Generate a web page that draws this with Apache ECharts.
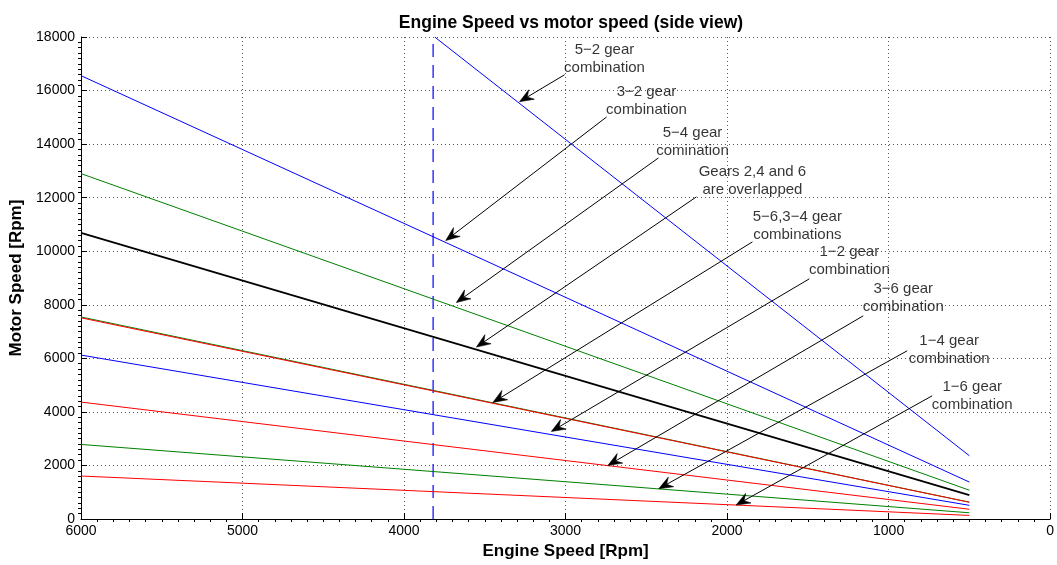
<!DOCTYPE html>
<html>
<head>
<meta charset="utf-8">
<title>Engine Speed vs motor speed</title>
<script src="https://cdn.jsdelivr.net/npm/echarts@6/dist/echarts.min.js"></script>
<style>
  html, body { margin: 0; padding: 0; background: #fff; }
  #chart { width: 1057px; height: 565px; }
</style>
</head>
<body>
<div id="chart"></div>
<script>
// Engine speed range covered by every gear combination [rpm]
const engineEnds = [6000, 500];

// Motor speed at the two ends of each gear-combination line [rpm]
const gear52 = [[3810, 18000], [500, 2363]];
const gear32 = [16556, 1379];
const gear54 = [12898, 1075];
const gears246 = [10685, 891];
const gear56 = [7545, 629];
const gear34 = [7513, 626];
const gear12 = [6121, 510];
const gear36 = [4366, 364];
const gear14 = [2784, 232];
const gear16 = [1605, 134];

// Engine speed marker (vertical dashed line)
const markerSpeed = 3820;

// Axis ticks
const xTicks = { min: 0, max: 6000, interval: 1000 };
const yTicks = { min: 0, max: 18000, interval: 2000 };

// Callouts: text, text anchor, arrow start and arrow tip (data units)
const calloutLabels = [
  '5\u22122 gear\ncombination',
  '3\u22122 gear\ncombination',
  '5\u22124 gear\ncomination',
  'Gears 2,4 and 6\nare overlapped',
  '5\u22126,3\u22124 gear\ncombinations',
  '1\u22122 gear\ncombination',
  '3\u22126 gear\ncombination',
  '1\u22124 gear\ncombination',
  '1\u22126 gear\ncombination'
];
const calloutTextPos = [
  [2759, 17197], [2499, 15607], [2214, 14099], [1843, 12625], [1565, 10965],
  [1243, 9640], [909, 8240], [625, 6318], [482, 4602]
];
const arrowStart = [
  [3006, 16590], [2746, 15014], [2425, 13484], [2190, 12029], [1843, 10349],
  [1491, 8968], [1157, 7587], [885, 6281], [730, 4601]
];
const arrowTip = [
  [3285, 15585], [3742, 10397], [3676, 8084], [3552, 6419], [3450, 4352],
  [3088, 3269], [2738, 2000], [2423, 1131], [1944, 522]
];

const FONT = '"Liberation Sans", Arial, Helvetica, sans-serif';
const BLUE = '#0000ff', GREEN = '#008000', RED = '#ff0000', BLACK = '#000000';

function pair(vals) {
  return [[engineEnds[0], vals[0]], [engineEnds[1], vals[1]]];
}

function gearLine(name, data, color, width) {
  return {
    name: name,
    type: 'line',
    data: data,
    symbol: 'none',
    silent: true,
    lineStyle: { color: color, width: width || 1 },
    z: 3
  };
}

// Arrow with a notched head, drawn from start to tip in pixel space
function renderArrow(params, api) {
  const s = api.coord([api.value(0), api.value(1)]);
  const t = api.coord([api.value(2), api.value(3)]);
  const dx = t[0] - s[0], dy = t[1] - s[1];
  const len = Math.sqrt(dx * dx + dy * dy) || 1;
  const ux = dx / len, uy = dy / len;
  const nx = -uy, ny = ux;
  const L = 14, W = 5.5, notch = 9;
  const back = [t[0] - ux * L, t[1] - uy * L];
  const head = [
    t,
    [back[0] + nx * W, back[1] + ny * W],
    [t[0] - ux * notch, t[1] - uy * notch],
    [back[0] - nx * W, back[1] - ny * W]
  ];
  return {
    type: 'group',
    children: [
      {
        type: 'line',
        shape: { x1: s[0], y1: s[1], x2: t[0] - ux * notch, y2: t[1] - uy * notch },
        style: { stroke: '#000', lineWidth: 1 }
      },
      {
        type: 'polygon',
        shape: { points: head },
        style: { fill: '#000', stroke: '#000', lineWidth: 0.6 }
      }
    ]
  };
}

const chart = echarts.init(document.getElementById('chart'), null, { renderer: 'canvas' });

const gridLine = { show: true, lineStyle: { color: '#555', width: 1, type: [1, 3] } };
const plainNumber = (v) => String(v);

chart.setOption({
  animation: false,
  backgroundColor: '#ffffff',
  textStyle: { fontFamily: FONT },
  title: {
    text: 'Engine Speed vs motor speed (side view)',
    left: 566,
    textAlign: 'center',
    top: 9,
    textStyle: { fontFamily: FONT, fontSize: 17.5, fontWeight: 'bold', color: '#000' }
  },
  grid: { left: 81, right: 6, top: 37, bottom: 46, containLabel: false },
  xAxis: {
    type: 'value',
    inverse: true,
    min: xTicks.min,
    max: xTicks.max,
    interval: xTicks.interval,
    name: 'Engine Speed [Rpm]',
    nameLocation: 'middle',
    nameGap: 21,
    nameTextStyle: { fontFamily: FONT, fontSize: 17, fontWeight: 'bold', color: '#000' },
    axisLine: { show: true, onZero: false, lineStyle: { color: '#000', width: 1 } },
    axisTick: { show: true, inside: true, length: 6, lineStyle: { color: '#000' } },
    minorTick: { show: true, splitNumber: 10, length: -3, lineStyle: { color: '#000' } },
    axisLabel: { fontFamily: FONT, fontSize: 14, color: '#000', margin: 5, formatter: plainNumber },
    splitLine: gridLine
  },
  yAxis: {
    type: 'value',
    min: yTicks.min,
    max: yTicks.max,
    interval: yTicks.interval,
    name: 'Motor Speed [Rpm]',
    nameLocation: 'middle',
    nameGap: 54,
    nameTextStyle: { fontFamily: FONT, fontSize: 17, fontWeight: 'bold', color: '#000' },
    axisLine: { show: true, onZero: false, lineStyle: { color: '#000', width: 1 } },
    axisTick: { show: true, inside: true, length: 6, lineStyle: { color: '#000' } },
    minorTick: { show: true, splitNumber: 10, length: -3, lineStyle: { color: '#000' } },
    axisLabel: { fontFamily: FONT, fontSize: 14, color: '#000', margin: 6, formatter: plainNumber },
    splitLine: gridLine
  },
  series: [
    gearLine('5-2', gear52, BLUE),
    gearLine('3-2', pair(gear32), BLUE),
    gearLine('5-4', pair(gear54), GREEN),
    gearLine('5-6', pair(gear56), GREEN),
    gearLine('3-4', pair(gear34), RED),
    gearLine('1-2', pair(gear12), BLUE),
    gearLine('3-6', pair(gear36), RED),
    gearLine('1-4', pair(gear14), GREEN),
    gearLine('1-6', pair(gear16), RED),
    gearLine('Gears 2,4,6', pair(gears246), BLACK, 1.8),
    {
      name: 'marker',
      type: 'line',
      data: [[markerSpeed, yTicks.min], [markerSpeed, yTicks.max]],
      symbol: 'none',
      silent: true,
      lineStyle: { color: BLUE, width: 1.2, type: [13, 8] },
      z: 2
    },
    {
      name: 'arrows',
      type: 'custom',
      silent: true,
      z: 4,
      renderItem: renderArrow,
      encode: { x: [0, 2], y: [1, 3] },
      data: arrowStart.map((s, i) => [s[0], s[1], arrowTip[i][0], arrowTip[i][1]])
    },
    {
      name: 'callouts',
      type: 'scatter',
      data: calloutTextPos.map((p, i) => [p[0], p[1], calloutLabels[i]]),
      symbolSize: 0,
      silent: true,
      z: 5,
      itemStyle: { color: 'transparent' },
      label: {
        show: true,
        position: 'inside',
        formatter: (p) => p.value[2],
        fontFamily: FONT,
        fontSize: 15,
        lineHeight: 18,
        align: 'center',
        color: '#000',
        textBorderWidth: 0,
        textBorderColor: 'transparent'
      }
    }
  ]
});
</script>
</body>
</html>
